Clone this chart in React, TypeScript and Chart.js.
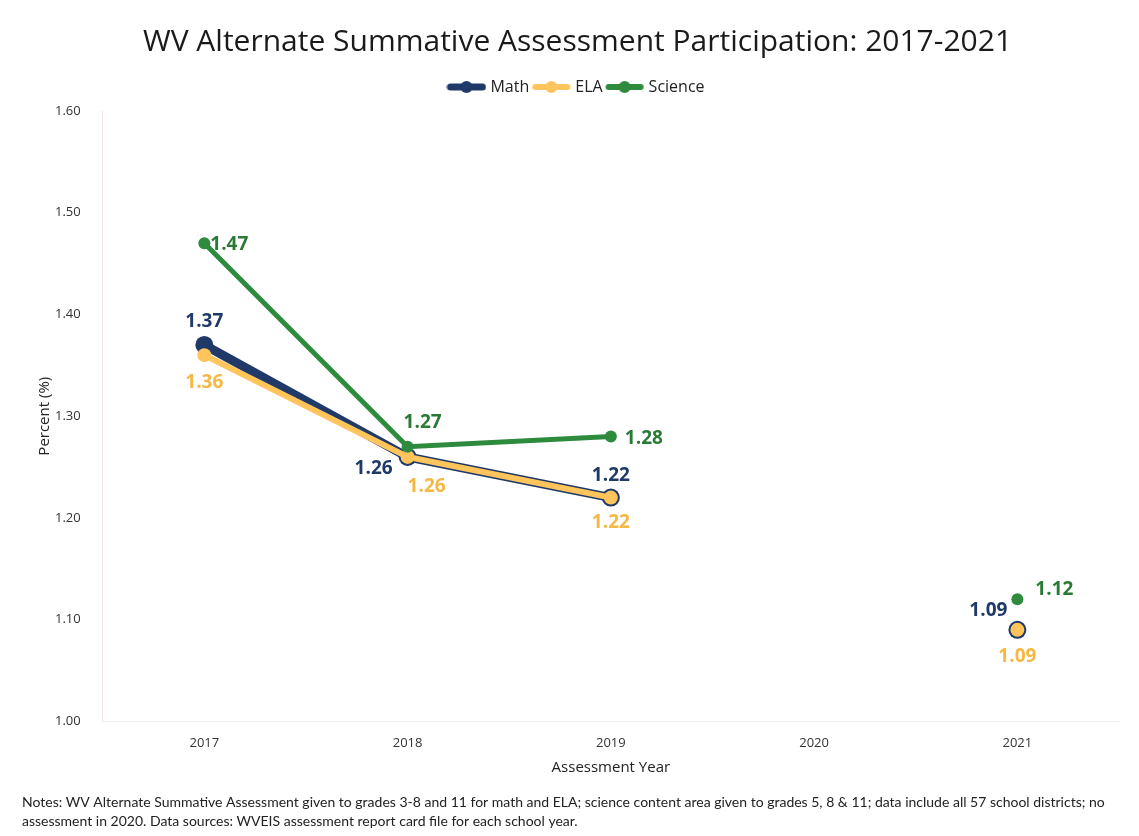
import React, { useEffect, useRef } from "react";
import { Chart, registerables } from "chart.js";

Chart.register(...registerables);

const years = ["2017", "2018", "2019", "2020", "2021"];
const mathValues: (number | null)[] = [1.37, 1.26, 1.22, null, 1.09];
const elaValues: (number | null)[] = [1.36, 1.26, 1.22, null, 1.09];
const scienceValues: (number | null)[] = [1.47, 1.27, 1.28, null, 1.12];
const seriesNames = ["Math", "ELA", "Science"];

const titleText = "WV Alternate Summative Assessment Participation: 2017-2021";
const notesLines = [
  "Notes: WV Alternate Summative Assessment given to grades 3-8 and 11 for math and ELA; science content area given to grades 5, 8 & 11; data include all 57 school districts; no",
  "assessment in 2020. Data sources: WVEIS assessment report card file for each school year.",
];

const NAVY = "#1F3A68";
const GOLD = "#FFC55C";
const GOLD_TEXT = "#F5B845";
const GREEN = "#2E8B3E";
const GREEN_TEXT = "#2A7A36";

// label offsets (style only): [dx, dy] from point to label centre
const labelOffsets: ([number, number] | null)[][] = [
  [[0, -23], [-34, 12], [0, -22], null, [-29, -19]],
  [[0, 27], [19, 30], [0, 25], null, [0, 27]],
  [[25, 1], [15, -24], [33, 2], null, [37, -10]],
];
const labelColors = [NAVY, GOLD_TEXT, GREEN_TEXT];

function makeMarker(color: string, lineW: number, r: number) {
  const c = document.createElement("canvas");
  c.width = 40;
  c.height = 20;
  const ctx = c.getContext("2d")!;
  ctx.strokeStyle = color;
  ctx.lineWidth = lineW;
  ctx.lineCap = "round";
  ctx.beginPath();
  ctx.moveTo(4, 10);
  ctx.lineTo(36, 10);
  ctx.stroke();
  ctx.fillStyle = color;
  ctx.beginPath();
  ctx.arc(20, 10, r, 0, Math.PI * 2);
  ctx.fill();
  return c;
}

const labelPlugin = {
  id: "valueLabels",
  afterDatasetsDraw(chart: any) {
    const ctx = chart.ctx;
    ctx.save();
    ctx.font = "bold 19px 'Open Sans', sans-serif";
    ctx.textAlign = "center";
    ctx.textBaseline = "middle";
    chart.data.datasets.forEach((ds: any, di: number) => {
      const meta = chart.getDatasetMeta(di);
      meta.data.forEach((pt: any, i: number) => {
        const v = ds.data[i];
        const off = labelOffsets[di][i];
        if (v == null || !off) return;
        ctx.fillStyle = labelColors[di];
        ctx.fillText(v.toFixed(2), pt.x + off[0], pt.y + off[1]);
      });
    });
    ctx.restore();
  },
};

const legendSpacer = {
  id: "legendSpacer",
  beforeInit(chart: any) {
    const legend = chart.legend;
    if (!legend) return;
    const origFit = legend.fit;
    legend.fit = function () {
      origFit.bind(legend)();
      this.height += 6;
    };
  },
};

const notesPlugin = {
  id: "notes",
  afterDraw(chart: any) {
    const ctx = chart.ctx;
    ctx.save();
    ctx.font = "14px Lato, sans-serif";
    ctx.fillStyle = "#222";
    ctx.textAlign = "left";
    ctx.textBaseline = "middle";
    ctx.fillText(notesLines[0], 22, 802);
    ctx.fillText(notesLines[1], 22, 821);
    ctx.restore();
  },
};

export default function App() {
  const ref = useRef<HTMLCanvasElement>(null);
  useEffect(() => {
    if (!ref.current) return;
    const markers = [makeMarker(NAVY, 7, 6), makeMarker(GOLD, 6, 6), makeMarker(GREEN, 6, 6)];
    const colors = [NAVY, GOLD, GREEN];
    const chart = new Chart(ref.current, {
      type: "line",
      data: {
        labels: years,
        datasets: [
          {
            label: seriesNames[0],
            data: mathValues,
            borderColor: NAVY,
            backgroundColor: NAVY,
            borderWidth: 9,
            pointRadius: 9,
            pointBorderWidth: 0,
            pointBackgroundColor: NAVY,
            order: 3,
            spanGaps: false,
          },
          {
            label: seriesNames[1],
            data: elaValues,
            borderColor: GOLD,
            backgroundColor: GOLD,
            borderWidth: 6,
            pointRadius: 7,
            pointBorderWidth: 0,
            pointBackgroundColor: GOLD,
            order: 2,
            spanGaps: false,
          },
          {
            label: seriesNames[2],
            data: scienceValues,
            borderColor: GREEN,
            backgroundColor: GREEN,
            borderWidth: 5,
            pointRadius: 6,
            pointBorderWidth: 0,
            pointBackgroundColor: GREEN,
            order: 1,
            spanGaps: false,
          },
        ],
      },
      options: {
        animation: false,
        responsive: false,
        maintainAspectRatio: false,
        layout: { padding: { left: 36, right: 20, top: 0, bottom: 59 } },
        plugins: {
          tooltip: { enabled: false },
          title: {
            display: true,
            text: titleText,
            color: "#1a1a1a",
            font: { size: 30, family: "'Open Sans', sans-serif", weight: "normal" },
            padding: { top: 24, bottom: 13 },
          },
          legend: {
            display: true,
            position: "top",
            labels: {
              usePointStyle: true,
              pointStyleWidth: 32,
              color: "#222",
              font: { size: 16, family: "'Open Sans', sans-serif" },
              padding: 6,
              generateLabels: () =>
                seriesNames.map((n, i) => ({
                  text: n,
                  datasetIndex: i,
                  pointStyle: markers[i],
                  fillStyle: colors[i],
                  strokeStyle: colors[i],
                  lineWidth: 0,
                  hidden: false,
                  fontColor: "#222",
                })),
            },
          },
        },
        scales: {
          x: {
            type: "category",
            offset: true,
            grid: { display: false, drawTicks: false },
            border: { display: true, color: "#eeeeee" },
            ticks: { color: "#333", font: { size: 13, family: "'Open Sans', sans-serif" }, padding: 14 },
            title: {
              display: true,
              text: "Assessment Year",
              color: "#222",
              font: { size: 15, family: "'Open Sans', sans-serif" },
              padding: { top: -6, bottom: 0 },
            },
          },
          y: {
            min: 1.0,
            max: 1.6,
            grid: { display: false, drawTicks: false },
            border: { display: true, color: "#f0e6e6" },
            ticks: {
              stepSize: 0.1,
              color: "#333",
              font: { size: 13, family: "'Open Sans', sans-serif" },
              padding: 22,
              callback: (v: any) => Number(v).toFixed(2),
            },
            title: {
              display: true,
              text: "Percent (%)",
              color: "#222",
              font: { size: 15, family: "'Open Sans', sans-serif" },
              padding: { top: 0, bottom: -21 },
            },
          },
        },
      },
      plugins: [legendSpacer, labelPlugin, notesPlugin],
    });
    return () => chart.destroy();
  }, []);
  return (
    <div style={{ position: "absolute", left: 0, top: 0, width: 1139, height: 836, background: "#fff" }}>
      <canvas ref={ref} width={1139} height={836} style={{ display: "block" }} />
    </div>
  );
}
